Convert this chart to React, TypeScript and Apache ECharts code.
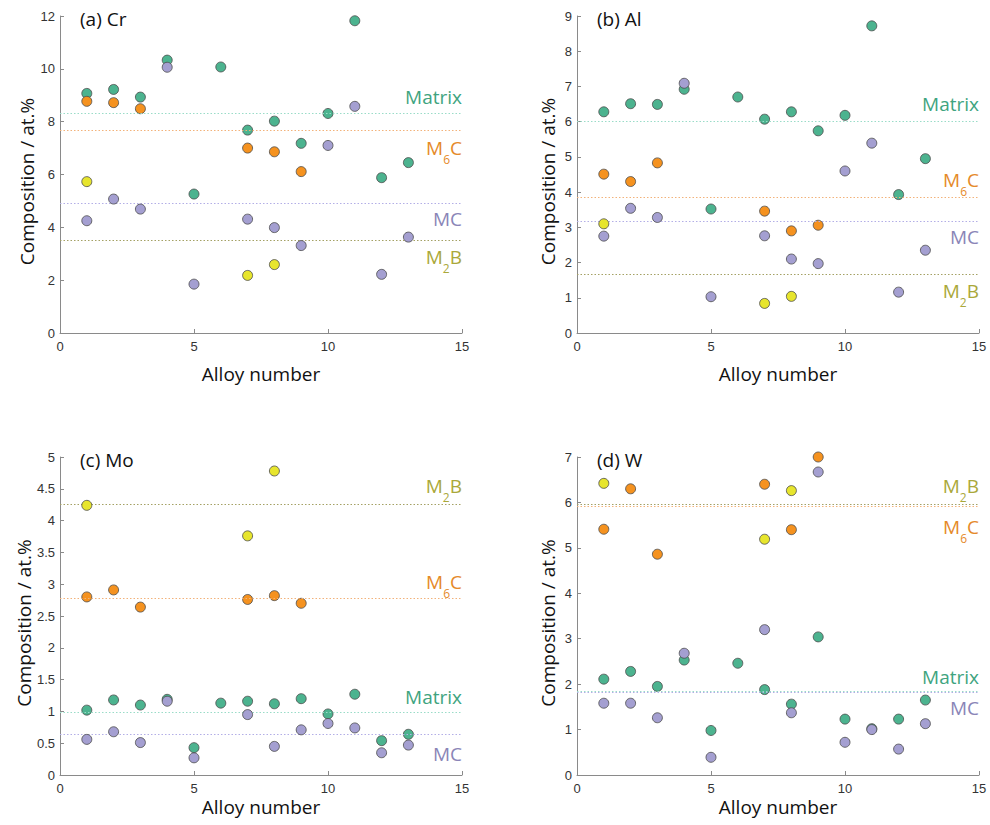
import React, { useEffect, useRef } from "react";
import * as echarts from "echarts";

// Alloy numbers (x values)
const alloys = [1, 2, 3, 4, 5, 6, 7, 8, 9, 10, 11, 12, 13];

// (a) Cr
const crMatrix = [9.07, 9.22, 8.93, 10.33, 5.26, 10.07, 7.68, 8.02, 7.18, 8.31, 11.82, 5.88, 6.45];
const crM6C = [8.77, 8.72, 8.49, null, null, null, 7.0, 6.86, 6.11, null, null, null, null];
const crMC = [4.25, 5.07, 4.69, 10.06, 1.85, null, 4.31, 3.99, 3.31, 7.1, 8.58, 2.22, 3.63];
const crM2B = [5.73, null, null, null, null, null, 2.18, 2.59, null, null, null, null, null];
const crAvg = [8.31, 7.67, 4.93, 3.51]; // Matrix, M6C, MC, M2B

// (b) Al
const alMatrix = [6.28, 6.51, 6.49, 6.92, 3.52, 6.7, 6.07, 6.28, 5.74, 6.18, 8.72, 3.93, 4.95];
const alM6C = [4.51, 4.3, 4.83, null, null, null, 3.46, 2.9, 3.06, null, null, null, null];
const alMC = [2.75, 3.54, 3.28, 7.09, 1.03, null, 2.76, 2.1, 1.97, 4.6, 5.39, 1.16, 2.35];
const alM2B = [3.1, null, null, null, null, null, 0.84, 1.04, null, null, null, null, null];
const alAvg = [6.02, 3.84, 3.18, 1.67];

// (c) Mo
const moMatrix = [1.02, 1.18, 1.1, 1.19, 0.43, 1.13, 1.16, 1.12, 1.2, 0.96, 1.27, 0.54, 0.64];
const moM6C = [2.8, 2.91, 2.64, null, null, null, 2.76, 2.82, 2.7, null, null, null, null];
const moMC = [0.56, 0.68, 0.51, 1.16, 0.27, null, 0.95, 0.45, 0.71, 0.81, 0.74, 0.35, 0.47];
const moM2B = [4.24, null, null, null, null, null, 3.76, 4.78, null, null, null, null, null];
const moAvg = [0.99, 2.78, 0.64, 4.26];

// (d) W
const wMatrix = [2.11, 2.28, 1.95, 2.53, 0.98, 2.46, 1.88, 1.56, 3.04, 1.23, 1.02, 1.23, 1.65];
const wM6C = [5.41, 6.3, 4.86, null, null, null, 6.4, 5.4, 7.0, null, null, null, null];
const wMC = [1.58, 1.58, 1.26, 2.68, 0.39, null, 3.2, 1.37, 6.67, 0.72, 1.0, 0.57, 1.13];
const wM2B = [6.42, null, null, null, null, null, 5.19, 6.26, null, null, null, null, null];
const wAvg = [1.84, 5.91, 1.83, 5.96];

const panelTitles = ["(a) Cr", "(b) Al", "(c) Mo", "(d) W"];
const yMaxes = [12, 9, 5, 7];
const yIntervals = [2, 1, 0.5, 1];
const xTicks = { min: 0, max: 15, interval: 5 };

const phaseNames = ["Matrix", "M6C", "MC", "M2B"];
const phaseFill = ["#4cb38f", "#f5921f", "#a49fd1", "#e7e52d"];
const phaseText = ["#3fa480", "#e58a2a", "#8a85b7", "#aaa83a"];
const phaseLine = ["#9adcc8", "#f2b27a", "#b3aee6", "#a4a164"];

const FONT = "Open Sans";

export default function App() {
  const ref = useRef<HTMLDivElement>(null);
  useEffect(() => {
    document.body.style.margin = "0";
    if (!ref.current) return;
    const chart = echarts.init(ref.current, null, { renderer: "svg" });

    const panelData = [
      [crMatrix, crM6C, crMC, crM2B],
      [alMatrix, alM6C, alMC, alM2B],
      [moMatrix, moM6C, moMC, moM2B],
      [wMatrix, wM6C, wMC, wM2B],
    ];
    const panelAvg = [crAvg, alAvg, moAvg, wAvg];

    // label placement per panel & phase: [position, distance]
    const labelPlace: [string, number][][] = [
      [["insideEndTop", 6], ["insideEndBottom", 8], ["insideEndBottom", 7], ["insideEndBottom", 7]],
      [["insideEndTop", 6], ["insideEndTop", 7], ["insideEndBottom", 7], ["insideEndBottom", 7]],
      [["insideEndTop", 5], ["insideEndTop", 6], ["insideEndBottom", 10], ["insideEndTop", 8]],
      [["insideEndTop", 4], ["insideEndBottom", 11], ["insideEndBottom", 7], ["insideEndTop", 8]],
    ];

    const grids = [
      { left: 60, top: 16, width: 402, height: 317 },
      { left: 577, top: 16, width: 402, height: 317 },
      { left: 60, top: 457, width: 402, height: 318 },
      { left: 577, top: 457, width: 402, height: 318 },
    ];
    const xNameGaps = [31, 31, 22, 22];

    const axisLine = { show: true, lineStyle: { color: "#8a8a8a", width: 1 } };
    const axisTick = { show: true, inside: true, length: 4, lineStyle: { color: "#8a8a8a" } };
    const tickLabel = { fontFamily: "Liberation Sans", fontSize: 13, color: "#333" };

    const labelFormat = (k: number) => {
      if (k === 1) return "{b|M}{s|6}{b|C}";
      if (k === 3) return "{b|M}{s|2}{b|B}";
      return "{b|" + phaseNames[k] + "}";
    };

    const series: any[] = [];
    panelData.forEach((arrs, p) => {
      arrs.forEach((vals, k) => {
        const pts: number[][] = [];
        vals.forEach((v, i) => {
          if (v !== null && v !== undefined) pts.push([alloys[i], v as number]);
        });
        const [pos, dist] = labelPlace[p][k];
        series.push({
          type: "scatter",
          name: phaseNames[k],
          xAxisIndex: p,
          yAxisIndex: p,
          data: pts,
          symbol: "circle",
          symbolSize: 10,
          z: 3 + k,
          itemStyle: { color: phaseFill[k], borderColor: "#4a4a4a", borderWidth: 0.8, opacity: 1 },
          emphasis: { disabled: true },
          markLine: {
            silent: true,
            symbol: ["none", "none"],
            animation: false,
            lineStyle: { type: [1.5, 2], width: 1, color: phaseLine[k] },
            emphasis: { disabled: true },
            label: {
              show: true,
              position: pos,
              distance: [0, dist],
              formatter: labelFormat(k),
              rich: {
                b: { fontFamily: FONT, fontSize: 19, color: phaseText[k], lineHeight: 20, verticalAlign: "top" },
                s: { fontFamily: FONT, fontSize: 12, color: phaseText[k], lineHeight: 12, padding: [15, 0, 0, 0], verticalAlign: "top" },
              },
            },
            data: [{ yAxis: panelAvg[p][k] }],
          },
        });
      });
    });

    const titlePos = [
      { left: 75, top: 4 },
      { left: 592, top: 4 },
      { left: 75, top: 445 },
      { left: 592, top: 445 },
    ];

    chart.setOption({
      animation: false,
      title: panelTitles.map((t, i) => ({
        text: t,
        left: titlePos[i].left,
        top: titlePos[i].top,
        textStyle: { fontFamily: FONT, fontSize: 19, fontWeight: "normal", color: "#111" },
      })),
      grid: grids.map((g) => ({ ...g, containLabel: false })),
      xAxis: grids.map((_, i) => ({
        type: "value",
        gridIndex: i,
        min: xTicks.min,
        max: xTicks.max,
        interval: xTicks.interval,
        name: "Alloy number",
        nameLocation: "middle",
        nameGap: xNameGaps[i],
        nameTextStyle: { fontFamily: FONT, fontSize: 19, color: "#111" },
        axisLine,
        axisTick,
        axisLabel: { ...tickLabel, margin: 7 },
        splitLine: { show: false },
      })),
      yAxis: grids.map((_, i) => ({
        type: "value",
        gridIndex: i,
        min: 0,
        max: yMaxes[i],
        interval: yIntervals[i],
        name: "Composition / at.%",
        nameLocation: "middle",
        nameGap: 20,
        nameTextStyle: { fontFamily: FONT, fontSize: 19, color: "#111", padding: [0, 14, 0, 0] },
        axisLine,
        axisTick,
        axisLabel: { ...tickLabel, margin: 5 },
        splitLine: { show: false },
      })),
      series,
    });
    return () => chart.dispose();
  }, []);
  return <div ref={ref} style={{ width: 990, height: 825 }} />;
}
